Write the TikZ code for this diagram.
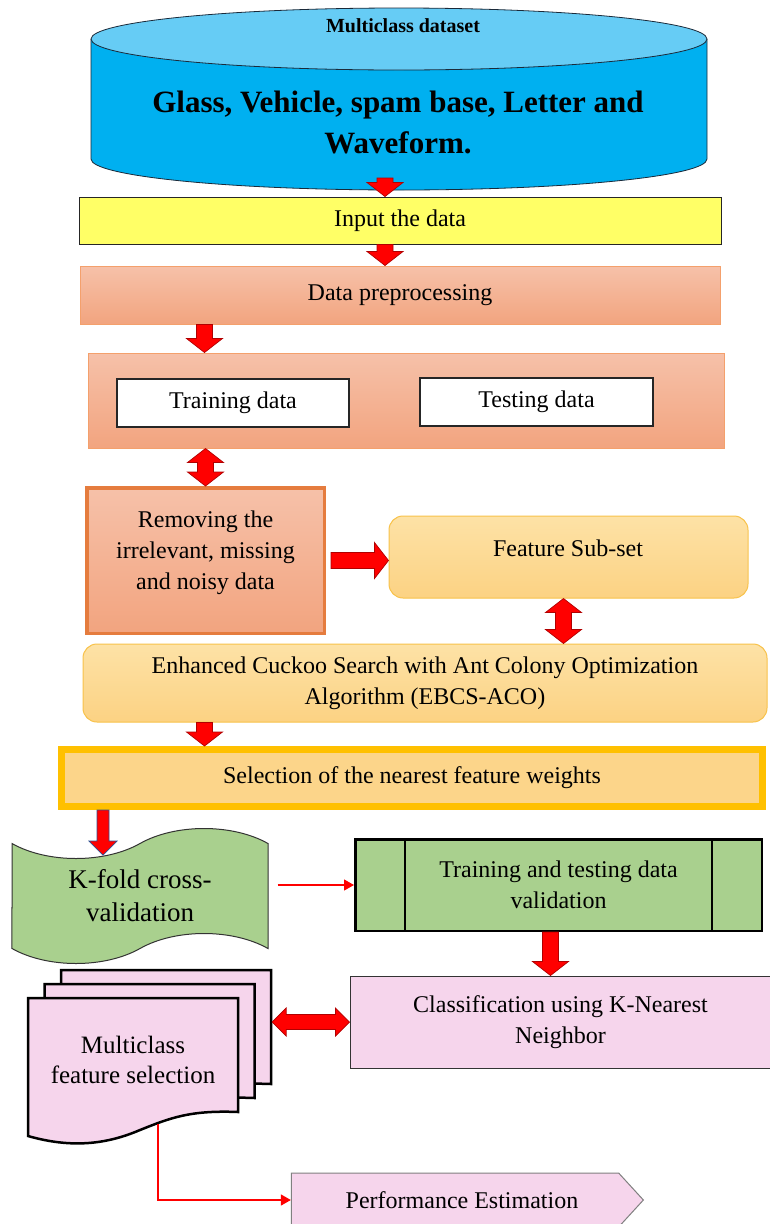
\documentclass[tikz,border=0pt]{standalone}
\usepackage{fontspec}
\setmainfont{Liberation Serif}
\usetikzlibrary{shapes.symbols,shapes.geometric,arrows.meta,calc}

\definecolor{cylside}{HTML}{00B0F0}
\definecolor{cyltop}{HTML}{66CCF5}
\definecolor{cylline}{HTML}{1A2A3A}
\definecolor{inyellow}{HTML}{FFFF66}
\definecolor{salmontop}{HTML}{F6C1A9}
\definecolor{salmonbot}{HTML}{F2A47F}
\definecolor{salmonline}{HTML}{F4A06C}
\definecolor{remline}{HTML}{E57C3E}
\definecolor{peachtop}{HTML}{FDE2A6}
\definecolor{peachbot}{HTML}{FCD283}
\definecolor{peachline}{HTML}{F8C24A}
\definecolor{gold}{HTML}{FFC000}
\definecolor{leaf}{HTML}{A9D08E}
\definecolor{pinkfill}{HTML}{F6D5EC}
\definecolor{arrred}{HTML}{FF0000}
\definecolor{arrdark}{HTML}{B00000}
\definecolor{arrblue}{HTML}{2F4F8F}

\tikzset{
  arrshaft/.store in=\arrshaft, arrhead/.store in=\arrhead, arrlen/.store in=\arrlen,
  arrshaft=8pt, arrhead=18pt, arrlen=14pt,
  barrow/.style={fill=arrred, draw=arrdark, line width=0.7pt, line join=miter},
  txt/.style={font=\fontsize{24}{31}\selectfont, align=center, inner sep=0pt},
  salmonbox/.style={draw=salmonline, line width=1pt, top color=salmontop, bottom color=salmonbot, inner sep=0pt},
  peachbox/.style={draw=peachline, line width=1pt, rounded corners=14pt, top color=peachtop, bottom color=peachbot, inner sep=0pt},
  plainbox/.style={draw=black!85, line width=1.5pt, fill=white, inner sep=0pt},
  docstyle/.style={draw=black, line width=2.5pt, fill=pinkfill, line join=miter},
  thinred/.style={draw=red, line width=1.2pt, -{Triangle[length=10pt,width=11pt]}},
}

% block arrows between node anchors
\newcommand\darrow[3][]{\draw[barrow,#1] let \p1=#2, \p2=#3 in
  (\x1-\arrshaft,\y1) -- (\x1-\arrshaft,\y2+\arrlen) -- (\x1-\arrhead,\y2+\arrlen) -- (\x1,\y2)
  -- (\x1+\arrhead,\y2+\arrlen) -- (\x1+\arrshaft,\y2+\arrlen) -- (\x1+\arrshaft,\y1) -- cycle;}
\newcommand\rarrow[3][]{\draw[barrow,#1] let \p1=#2, \p2=#3 in
  (\x1,\y1+\arrshaft) -- (\x2-\arrlen,\y1+\arrshaft) -- (\x2-\arrlen,\y1+\arrhead) -- (\x2,\y1)
  -- (\x2-\arrlen,\y1-\arrhead) -- (\x2-\arrlen,\y1-\arrshaft) -- (\x1,\y1-\arrshaft) -- cycle;}
\newcommand\dvarrow[3][]{\draw[barrow,#1] let \p1=#2, \p2=#3 in
  (\x1,\y1) -- (\x1+\arrhead,\y1-\arrlen) -- (\x1+\arrshaft,\y1-\arrlen) -- (\x1+\arrshaft,\y2+\arrlen)
  -- (\x1+\arrhead,\y2+\arrlen) -- (\x1,\y2) -- (\x1-\arrhead,\y2+\arrlen) -- (\x1-\arrshaft,\y2+\arrlen)
  -- (\x1-\arrshaft,\y1-\arrlen) -- (\x1-\arrhead,\y1-\arrlen) -- cycle;}
\newcommand\dharrow[3][]{\draw[barrow,#1] let \p1=#2, \p2=#3 in
  (\x1,\y1) -- (\x1+\arrlen,\y1+\arrhead) -- (\x1+\arrlen,\y1+\arrshaft) -- (\x2-\arrlen,\y1+\arrshaft)
  -- (\x2-\arrlen,\y1+\arrhead) -- (\x2,\y1) -- (\x2-\arrlen,\y1-\arrhead) -- (\x2-\arrlen,\y1-\arrshaft)
  -- (\x1+\arrlen,\y1-\arrshaft) -- (\x1+\arrlen,\y1-\arrhead) -- cycle;}

% one page of the stacked documents
\newcommand\docpage[1]{\draw[docstyle, shift={#1}] (28,998) -- (238,998) -- (238,1112)
  .. controls (190,1110) and (170,1118) .. (140,1130)
  .. controls (105,1145) and (70,1148) .. (28,1136) -- cycle;}

\begin{document}
\begin{tikzpicture}[x=1pt,y=-1pt]
\useasboundingbox (0,0) rectangle (769,1224);
\fill[white] (0,0) rectangle (769,1224);

% dataset cylinder
\fill[cylside] (91,39) -- (91,159) arc[start angle=180, end angle=360, x radius=308pt, y radius=31pt] -- (707,39) -- cycle;
\draw[cylline, line width=0.8pt] (91,39) -- (91,159) arc[start angle=180, end angle=360, x radius=308pt, y radius=31pt] -- (707,39);
\draw[cylline, line width=0.8pt, fill=cyltop] (399,39) ellipse [x radius=308pt, y radius=31pt];
\coordinate (cylbot) at (399,190);
\node[font=\fontsize{20}{24}\selectfont\bfseries, inner sep=0pt] (dbtitle) at (403,26) {Multiclass dataset};
\node[font=\fontsize{31}{41}\selectfont\bfseries, align=center, inner sep=0pt] (dbname) at (398,122) {Glass, Vehicle, spam base, Letter and\\Waveform.};

% main flow
\node[draw=black!85, line width=1pt, fill=inyellow, minimum width=642pt, minimum height=47pt, txt] (input) at (400,220.5) {Input the data};
\node[salmonbox, minimum width=640pt, minimum height=58pt, txt] (prep) at (400,295) {Data preprocessing};
\node[salmonbox, minimum width=636pt, minimum height=95pt] (cont) at (406,400.5) {};
\node[plainbox, minimum width=232pt, minimum height=48pt, txt] (train) at (233,403) {Training data};
\node[plainbox, minimum width=233pt, minimum height=48pt, txt] (test) at (536.5,402) {Testing data};

\node[salmonbox, draw=remline, line width=3.5pt, minimum width=237.5pt, minimum height=145.5pt] (rem) at (205.5,560.5) {};
\node[txt] (remtxt) at (205.5,553) {Removing the\\irrelevant, missing\\and noisy data};
\node[peachbox, minimum width=359pt, minimum height=82pt] (fss) at (568.5,557) {};
\node[txt] (fsstxt) at (568,548) {Feature Sub-set};
\node[peachbox, minimum width=684pt, minimum height=78pt, txt] (eca) at (425,683) {Enhanced Cuckoo Search with Ant Colony Optimization\\Algorithm (EBCS-ACO)};
\node[draw=gold, line width=7pt, fill=peachbot!80!peachtop, minimum width=701pt, minimum height=57pt, txt] (sel) at (412,778) {Selection of the nearest feature weights};

\node[tape, draw=black!80, line width=1pt, fill=leaf, minimum width=256pt, minimum height=135pt, tape bend height=30pt,
      font=\fontsize{27}{33}\selectfont, align=center, inner sep=0pt] (kfold) at (140,896) {K-fold cross-\\validation};
\node[draw=black, line width=2.5pt, fill=leaf, minimum width=406.5pt, minimum height=91.5pt, txt] (tdv) at (558.5,885) {Training and testing data\\validation};
\draw[line width=2.5pt] ([xshift=51pt]tdv.north west) -- ([xshift=51pt]tdv.south west);
\draw[line width=2.5pt] ([xshift=-51pt]tdv.north east) -- ([xshift=-51pt]tdv.south east);
\node[draw=black!80, line width=1pt, fill=pinkfill, minimum width=421pt, minimum height=92pt, txt] (cls) at (560.5,1022) {Classification using K-Nearest\\Neighbor};

% stacked documents
\docpage{(33,-28)}
\docpage{(16.5,-14)}
\docpage{(0,0)}
\node[minimum width=243pt, minimum height=168pt, inner sep=0pt] (mfs) at (149.5,1054) {};
\node[font=\fontsize{25}{30}\selectfont, align=center, inner sep=0pt] (mfstxt) at (133,1060) {Multiclass\\feature selection};
\coordinate (mfsfoot) at (158,1124);

\node[signal, signal to=east, signal pointer angle=95, draw=gray, line width=1pt, fill=pinkfill,
      minimum width=352pt, minimum height=54pt, txt] (perf) at (455,1200) {\hspace*{14pt}Performance Estimation};

% connectors
\darrow{([xshift=-14pt,yshift=12pt]cylbot)}{(input.north)}
\darrow{([xshift=-15pt]input.south)}{(prep.north)}
\darrow{([xshift=125pt]prep.south west)}{(cont.north)}
\dvarrow{(rem.north |- cont.south)}{(rem.north)}
\rarrow{([xshift=5pt]rem.east)}{(fss.west)}
\dvarrow{([xshift=-5pt]fss.south)}{(eca.north)}
\darrow{([xshift=122pt]eca.south west)}{(sel.north)}
\darrow[arrshaft=6pt, arrhead=14pt, draw=arrblue]{([xshift=45pt]sel.south west)}{([yshift=-12pt]kfold.north)}
\draw[thinred] ($(kfold.east |- tdv.west)+(9,0)$) -- (tdv.west);
\darrow{([xshift=-8pt]tdv.south)}{(cls.north)}
\dharrow[arrshaft=7.5pt, arrhead=14pt]{($(mfs.east |- cls.west)+(1,0)$)}{(cls.west)}
\draw[thinred] (mfsfoot) |- (perf.west);
\end{tikzpicture}
\end{document}
